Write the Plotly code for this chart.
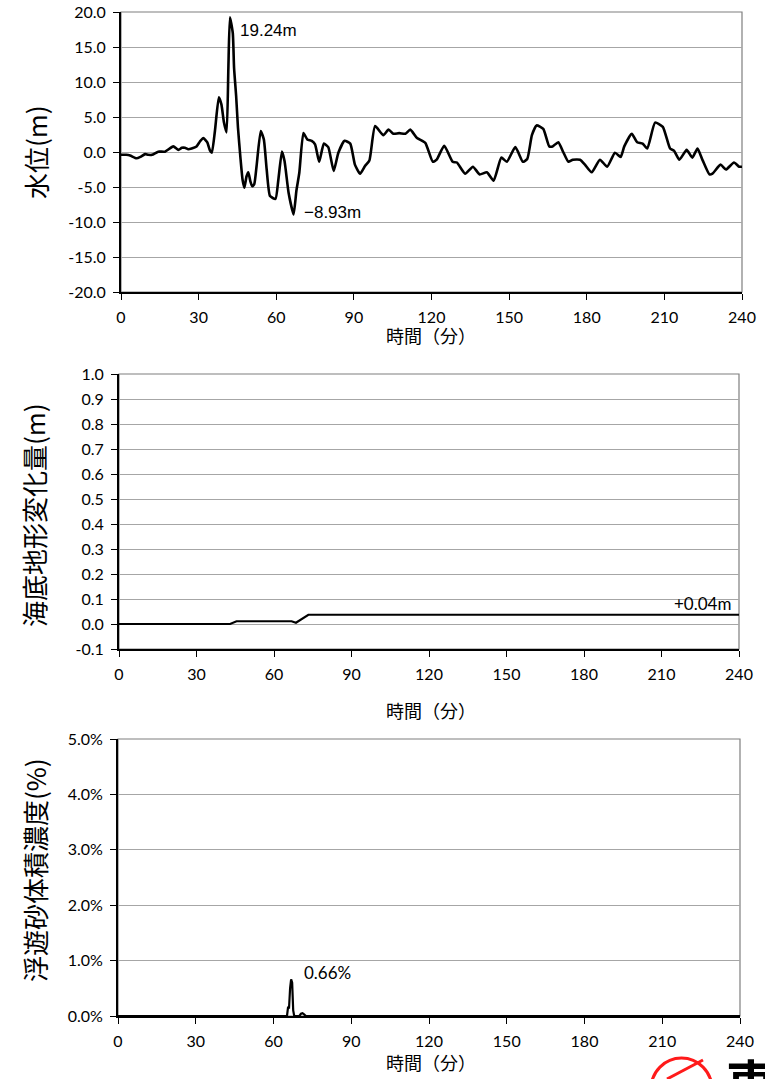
import plotly.graph_objects as go

# ---------------- data ----------------
wl_time = [0, 2, 3.5, 6, 7.5, 9.3, 10.5, 12, 14.4, 17, 20.2, 22.2, 23.5, 24.7, 26, 27.3, 29.2,
           30.5, 31.8, 33.3, 34.4, 35.1, 36.3, 37.8, 38.8, 39.8, 40.8, 41.5, 42.1, 43.2, 43.7,
           44.5, 45.2, 46.2, 47.0, 47.7, 48.5, 49.2, 50.0, 50.7, 51.5, 52.4, 54.0, 55.2, 56.3,
           57.6, 59.7, 60.8, 62.2, 63.2, 64.8, 66.7, 67.8, 68.9, 70.5, 72.0, 73.7, 75.0, 76.6,
           78.4, 80.1, 82.2, 84.0, 86.4, 88.6, 90.4, 92.4, 94.3, 96.0, 98.2, 101.4, 103.4,
           105.3, 107.5, 109.9, 111.8, 114.4, 117.6, 120.5, 122.0, 124.9, 128.2, 129.8, 133.0,
           136.0, 138.6, 141.4, 144.0, 147.0, 149.1, 152.4, 155.3, 157.0, 158.8, 160.6, 163.2,
           165.5, 166.8, 169.0, 170.9, 172.9, 174.6, 177.4, 179.3, 181.9, 185.1, 187.9, 190.9,
           193.1, 194.5, 197.4, 199.5, 201.6, 203.4, 206.4, 209.4, 212.2, 213.7, 215.8, 218.6,
           220.8, 222.8, 224.8, 227.4, 228.6, 231.7, 233.8, 236.9, 238.9, 240]
wl_value = [-0.4, -0.4, -0.5, -0.9, -0.7, -0.3, -0.4, -0.4, 0.05, 0.05, 0.8, 0.3, 0.6, 0.6, 0.4,
            0.5, 0.8, 1.5, 2.0, 1.4, 0.2, -0.1, 3.0, 7.8, 6.8, 4.2, 2.8, 12.0, 19.24, 17.0, 12.0,
            8.0, 3.5, -1.0, -4.0, -5.1, -3.5, -2.9, -4.2, -4.9, -4.6, -2.0, 3.0, 1.8, -2.5,
            -6.3, -6.7, -4.0, 0.05, -1.3, -5.9, -8.93, -5.5, -3.0, 2.7, 1.8, 1.6, 1.1, -1.4,
            1.2, 0.7, -2.7, -0.1, 1.6, 1.2, -1.8, -3.1, -2.0, -1.2, 3.7, 2.4, 3.2,
            2.6, 2.7, 2.6, 3.2, 2.0, 1.3, -1.4, -1.1, 0.9, -1.4, -1.5, -3.1,
            -2.1, -3.2, -2.9, -4.1, -0.8, -1.4, 0.7, -1.4, -1.0, 2.4, 3.8, 3.3,
            0.8, 0.8, 1.4, 0.0, -1.4, -1.1, -1.1, -1.8, -2.9, -1.1, -2.1, -0.1,
            -0.7, 0.8, 2.6, 1.4, 1.2, 0.5, 4.2, 3.6, 0.5, 0.2, -1.1, 0.3,
            -0.8, 0.5, -1.2, -3.2, -3.1, -1.8, -2.5, -1.5, -2.1, -2.1]

bed_time = [0, 43, 45.5, 66.8, 68.5, 73.3, 240]
bed_value = [0, 0, 0.011, 0.011, 0.005, 0.037, 0.037]

sed_time = [0, 65.2, 65.6, 66.0, 66.4, 66.8, 67.2, 67.6, 68.0, 70.0, 70.6, 71.2, 71.8, 72.5, 240]
sed_value = [0, 0, 0.15, 0.15, 0.5, 0.66, 0.6, 0.1, 0, 0, 0.04, 0.05, 0.03, 0, 0]

x_ticks = [0, 30, 60, 90, 120, 150, 180, 210, 240]
wl_ticks = [20, 15, 10, 5, 0, -5, -10, -15, -20]
bed_ticks = [1.0, 0.9, 0.8, 0.7, 0.6, 0.5, 0.4, 0.3, 0.2, 0.1, 0.0, -0.1]
sed_ticks = [5, 4, 3, 2, 1, 0]

W, H = 765, 1079
def px(x):
    return x / W
def py(y):
    return 1 - y / H

TICKFONT = dict(family="Lato, 'Noto Sans', sans-serif", size=16, color="#000")
CJK = "'Noto Sans CJK JP', sans-serif"

fig = go.Figure()
fig.add_trace(go.Scatter(x=wl_time, y=wl_value, mode="lines", xaxis="x", yaxis="y",
                         line=dict(color="#000", width=2.6, shape="spline", smoothing=0.5),
                         showlegend=False))
fig.add_trace(go.Scatter(x=bed_time, y=bed_value, mode="lines", xaxis="x2", yaxis="y2",
                         line=dict(color="#000", width=2.2), showlegend=False))
fig.add_trace(go.Scatter(x=sed_time, y=sed_value, mode="lines", xaxis="x3", yaxis="y3",
                         line=dict(color="#000", width=2.2), showlegend=False))

boxes = [(121, 742, 12, 292), (119, 739, 374, 649), (118, 740, 739, 1016)]
yranges = [[-20, 20], [-0.1, 1.0], [0, 5]]
yticks = [wl_ticks, bed_ticks, sed_ticks]
ytext = [[f"{v:.1f}" for v in wl_ticks],
         [f"{v:.1f}" for v in bed_ticks],
         [f"{v:.1f}%" for v in sed_ticks]]

layout = dict(width=W, height=H, margin=dict(l=0, r=0, t=0, b=0, autoexpand=False),
              paper_bgcolor="white", plot_bgcolor="white", showlegend=False)
for i, (x0, x1, y0, y1) in enumerate(boxes):
    s = "" if i == 0 else str(i + 1)
    layout["xaxis" + s] = dict(domain=[px(x0), px(x1)], range=[0, 240], tickvals=x_ticks,
                               anchor="y" + s, showgrid=False, zeroline=False, automargin=False,
                               showline=True, linecolor="#000", linewidth=2,
                               ticks="outside", ticklen=6, tickwidth=1, tickcolor="#000",
                               tickfont=TICKFONT, ticklabelstandoff=4)
    layout["yaxis" + s] = dict(domain=[py(y1), py(y0)], range=yranges[i], tickvals=yticks[i],
                               ticktext=ytext[i], automargin=False,
                               anchor="x" + s, showgrid=True, gridcolor="#a6a6a6", gridwidth=1,
                               zeroline=False, showline=True, linecolor="#000", linewidth=2,
                               ticks="outside", ticklen=6, tickwidth=1, tickcolor="#000",
                               tickfont=TICKFONT, ticklabelstandoff=4)
fig.update_layout(**layout)

# plot-area border (grey), under axis lines
for i in range(3):
    s = "" if i == 0 else str(i + 1)
    fig.add_shape(type="rect", xref="x" + s + " domain", yref="y" + s + " domain",
                  x0=0, x1=1, y0=0, y1=1, line=dict(color="#7f7f7f", width=1.2), layer="below")

# axis titles
xt_y = [335, 710, 1062]
for yy in xt_y:
    fig.add_annotation(text="時間（分）", x=px(431), y=py(yy), xref="paper", yref="paper",
                       xanchor="center", yanchor="middle",
                       showarrow=False, font=dict(family=CJK, size=18, color="#000"))
ytitles = [("水位(m)", 35, 152), ("海底地形変化量(m)", 33, 515), ("浮遊砂体積濃度(%)", 34, 870)]
for t, xx, yy in ytitles:
    fig.add_annotation(text=t, x=px(xx), y=py(yy), xref="paper", yref="paper", textangle=-90,
                       xanchor="center", yanchor="middle",
                       showarrow=False, font=dict(family=CJK, size=26, color="#000"))

# value labels
ANN = dict(family="'Liberation Sans', Arial, sans-serif", size=17, color="#000")
fig.add_annotation(text="19.24m", x=45.2, y=17.4, xref="x", yref="y", showarrow=False,
                   xanchor="left", yanchor="middle", font=ANN)
fig.add_annotation(text="−8.93m", x=70.0, y=-8.6, xref="x", yref="y", showarrow=False,
                   xanchor="left", yanchor="middle", font=ANN)
fig.add_annotation(text="+0.04m", x=237.5, y=0.084, xref="x2", yref="y2", showarrow=False,
                   xanchor="right", yanchor="middle",
                   font=dict(family="Lato, sans-serif", size=17, color="#000"))
fig.add_annotation(text="0.66%", x=71.0, y=0.78, xref="x3", yref="y3", showarrow=False,
                   xanchor="left", yanchor="middle",
                   font=dict(family="Lato, sans-serif", size=17, color="#000"))

# partial logo at bottom-right
fig.add_shape(type="circle", xref="paper", yref="paper", x0=px(651), x1=px(712),
              y0=py(1120), y1=py(1058), line=dict(color="#ff1a1a", width=3))
fig.add_shape(type="line", xref="paper", yref="paper", x0=px(667), y0=py(1079),
              x1=px(703), y1=py(1060), line=dict(color="#ff1a1a", width=3))
fig.add_annotation(text="<b>東</b>", x=px(724), y=py(1042), xref="paper", yref="paper",
                   xanchor="left", yanchor="top", showarrow=False,
                   font=dict(family=CJK, size=50, color="#000"))

fig.write_html("out.html", config={"displayModeBar": False},
               post_script="document.body.style.margin='0';"
               "document.body.style.overflow='hidden';")
